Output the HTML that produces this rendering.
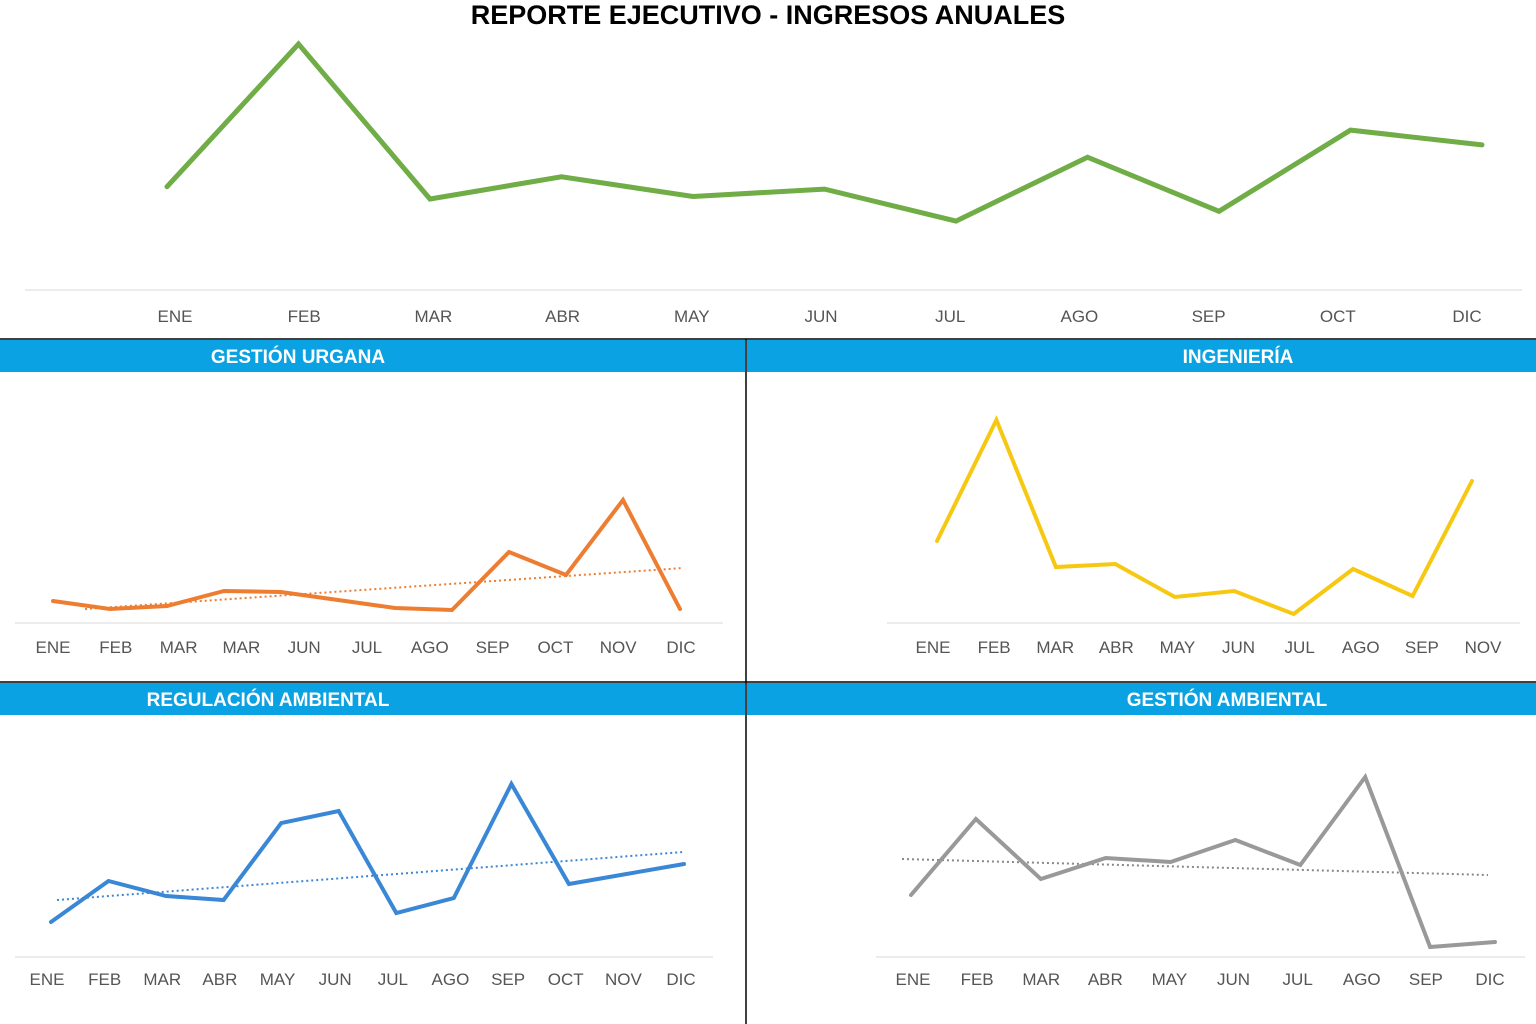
<!DOCTYPE html>
<html><head><meta charset="utf-8">
<style>
html,body{margin:0;padding:0;background:#fff;}
svg{display:block;font-family:"Liberation Sans",sans-serif;}
</style></head>
<body>
<svg id="c" width="1536" height="1024" viewBox="0 0 1536 1024">
<rect width="1536" height="1024" fill="#fff"/>
<text x="768" y="24" text-anchor="middle" font-size="27" font-weight="bold" fill="#000">REPORTE EJECUTIVO - INGRESOS ANUALES</text>
<line x1="0" y1="339" x2="1536" y2="339" stroke="#000" stroke-width="1.5"/>
<line x1="0" y1="682" x2="1536" y2="682" stroke="#000" stroke-width="1.5"/>
<line x1="746" y1="339" x2="746" y2="1024" stroke="#000" stroke-width="1.5"/>
<rect x="0" y="340" width="745" height="32" fill="#0AA2E2"/>
<rect x="747" y="340" width="789" height="32" fill="#0AA2E2"/>
<rect x="0" y="683" width="745" height="32" fill="#0AA2E2"/>
<rect x="747" y="683" width="789" height="32" fill="#0AA2E2"/>
<text x="298" y="363" text-anchor="middle" font-size="19" font-weight="bold" fill="#fff">GESTIÓN URGANA</text>
<text x="1238" y="363" text-anchor="middle" font-size="19" font-weight="bold" fill="#fff">INGENIERÍA</text>
<text x="268" y="706" text-anchor="middle" font-size="19" font-weight="bold" fill="#fff">REGULACIÓN AMBIENTAL</text>
<text x="1227" y="706" text-anchor="middle" font-size="19" font-weight="bold" fill="#fff">GESTIÓN AMBIENTAL</text>
</svg>
<script>
// Top chart data
const topLabels = ["ENE","FEB","MAR","ABR","MAY","JUN","JUL","AGO","SEP","OCT","DIC"];
const topValues = [42,100,37,46,38,41,28,54,32,65,59];
// Gestión Urgana
const urgLabels = ["ENE","FEB","MAR","MAR","JUN","JUL","AGO","SEP","OCT","NOV","DIC"];
const urgValues = [22,14,17,32,31,23,15,13,71,48,123,14];
const urgTrend = [14,55];
// Ingeniería
const ingLabels = ["ENE","FEB","MAR","ABR","MAY","JUN","JUL","AGO","SEP","NOV"];
const ingValues = [82,203,56,59,26,32,9,54,27,142];
// Regulación Ambiental
const regLabels = ["ENE","FEB","MAR","ABR","MAY","JUN","JUL","AGO","SEP","OCT","NOV","DIC"];
const regValues = [35,76,61,57,134,146,44,59,173,73,83,93];
const regTrend = [57,105];
// Gestión Ambiental
const gamLabels = ["ENE","FEB","MAR","ABR","MAY","JUN","JUL","AGO","SEP","DIC"];
const gamValues = [62,138,78,99,95,117,92,180,10,15];
const gamTrend = [98,82];

const svg = document.getElementById('c');
const NS = "http://www.w3.org/2000/svg";
function mk(tag, attrs){const e=document.createElementNS(NS,tag);for(const k in attrs)e.setAttribute(k,attrs[k]);svg.appendChild(e);return e;}

function chart(cfg){
  const {id,labels,values,trend,x0,x1,lx0,lx1,base,k,axisX0,axisX1,labelY,color,width} = cfg;
  const xs = i => x0 + (x1-x0)*i/(values.length-1);
  const ys = v => base - v*k;
  const ax = mk('line',{x1:axisX0,y1:base,x2:axisX1,y2:base,stroke:'#d9d9d9','stroke-width':1});
  
  
  labels.forEach((l,i)=>{
    const t = mk('text',{x:lx0+(lx1-lx0)*i/(labels.length-1),y:labelY,'text-anchor':'middle','font-size':17,fill:'#555'});
    t.textContent = l;
    
    
  });
  if(trend){
    const tx0 = x0+cfg.tOff0, tx1 = x1+cfg.tOff1;
    const tl = mk('line',{x1:tx0,y1:ys(trend[0]),x2:tx1,y2:ys(trend[1]),stroke:cfg.tColor||color,'stroke-width':2,'stroke-dasharray':'2 3'});
    
    
  }
  const pts = values.map((v,i)=>xs(i).toFixed(1)+','+ys(v).toFixed(1)).join(' ');
  const pl = mk('polyline',{points:pts,fill:'none',stroke:color,'stroke-width':width,'stroke-linejoin':'miter','stroke-linecap':'round'});
  
  
}

chart({id:'top',labels:topLabels,values:topValues,x0:167,x1:1482,lx0:175,lx1:1467,base:290,k:2.46,axisX0:25,axisX1:1522,labelY:322,color:'#70AD47',width:5});
chart({id:'gestion-urgana',labels:urgLabels,values:urgValues,trend:urgTrend,tOff0:32,tOff1:3,x0:53,x1:680,lx0:53,lx1:681,base:623,k:1,axisX0:15,axisX1:723,labelY:653,color:'#ED7D31',width:4});
chart({id:'ingenieria',labels:ingLabels,values:ingValues,x0:937,x1:1472,lx0:933,lx1:1483,base:623,k:1,axisX0:887,axisX1:1520,labelY:653,color:'#F7C811',width:4});
chart({id:'regulacion-ambiental',labels:regLabels,values:regValues,trend:regTrend,tOff0:6,tOff1:-1,x0:51,x1:684,lx0:47,lx1:681,base:957,k:1,axisX0:15,axisX1:713,labelY:985,color:'#3A87D6',width:4});
chart({id:'gestion-ambiental',labels:gamLabels,values:gamValues,trend:gamTrend,tOff0:-9,tOff1:-7,x0:911,x1:1495,lx0:913,lx1:1490,base:957,k:1,axisX0:876,axisX1:1525,labelY:985,color:'#999',tColor:'#888',width:4});
</script>
</body></html>
